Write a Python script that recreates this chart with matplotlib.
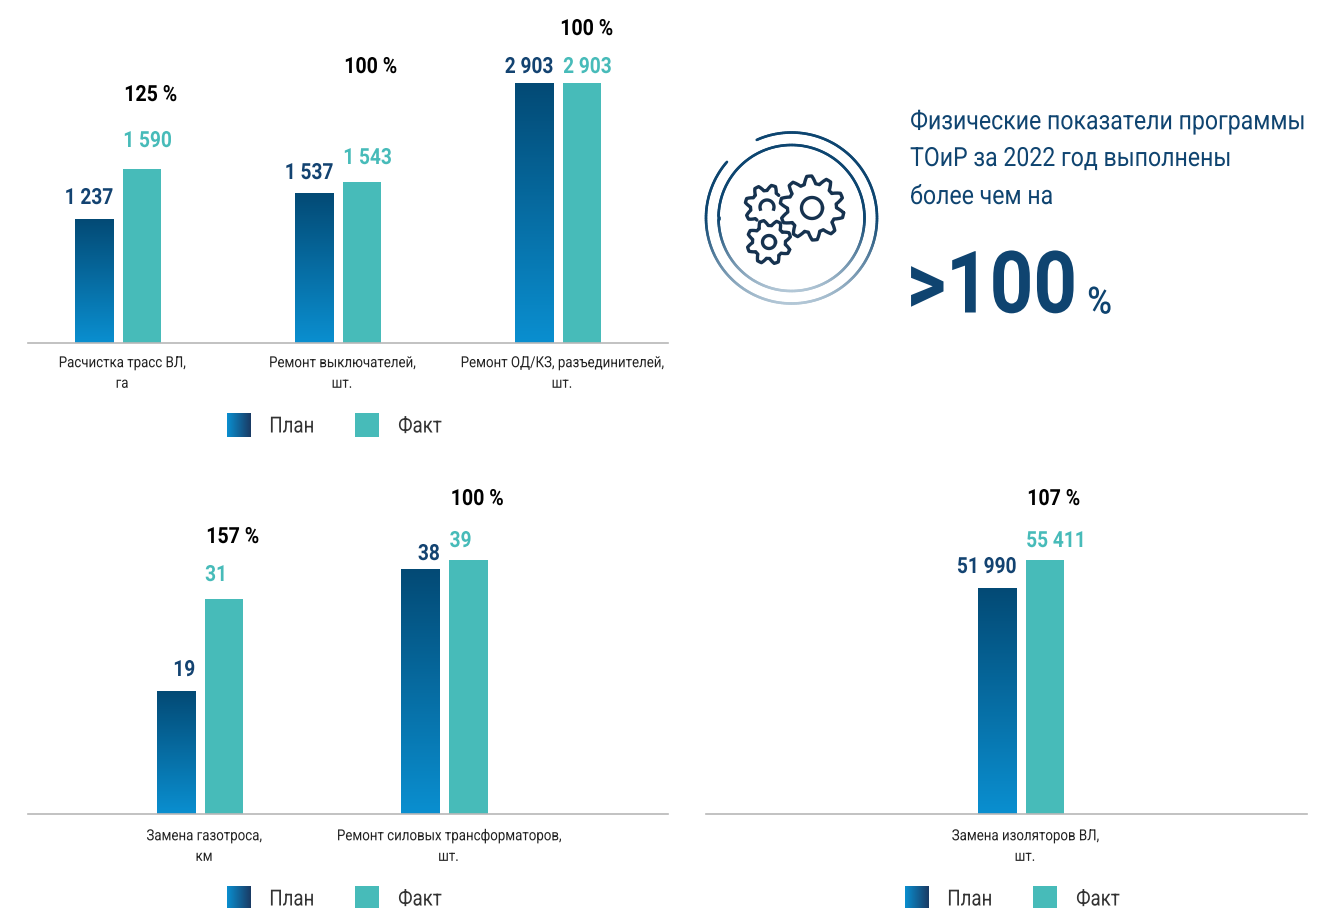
import numpy as np
import matplotlib
matplotlib.use('Agg')
import matplotlib.pyplot as plt
from matplotlib.colors import LinearSegmentedColormap
from matplotlib.patches import Rectangle
from matplotlib.patheffects import AbstractPathEffect
from matplotlib.transforms import Affine2D

plt.rcParams['font.family'] = ['Roboto', 'DejaVu Sans']

W, H = 1335, 908

# Bar heights (the source chart is not drawn to one scale)
cats_top = ['Расчистка трасс ВЛ,\nга', 'Ремонт выключателей,\nшт.', 'Ремонт ОД/КЗ, разъединителей,\nшт.']
plan_top = [124, 150, 260]
fact_top = [174, 161, 260]
plan_top_labels = ['1 237', '1 537', '2 903']
fact_top_labels = ['1 590', '1 543', '2 903']
pct_top = ['125 %', '100 %', '100 %']

cats_left = ['Замена газотроса,\nкм', 'Ремонт силовых трансформаторов,\nшт.']
plan_left = [123, 245]
fact_left = [215, 254]
plan_left_labels = ['19', '38']
fact_left_labels = ['31', '39']
pct_left = ['157 %', '100 %']

cats_right = ['Замена изоляторов ВЛ,\nшт.']
plan_right = [226]
fact_right = [254]
plan_right_labels = ['51 990']
fact_right_labels = ['55 411']
pct_right = ['107 %']

heading = ['Физические показатели программы', 'ТОиР за 2022 год выполнены', 'более чем на']

PLAN_TOP_COL = '#034a75'
PLAN_BOT_COL = '#0a8fd0'
FACT_COL = '#47bbb9'
AXIS_COL = '#b8b8b8'
NAVY = '#0f4470'
LABEL_NAVY = '#134371'
GEAR_COL = '#16324f'

bar_cmap = LinearSegmentedColormap.from_list('plan', [PLAN_BOT_COL, PLAN_TOP_COL])
legend_cmap = LinearSegmentedColormap.from_list('leg', [PLAN_BOT_COL, '#1a3a63'])
grad = np.linspace(0, 1, 256)


class Squeeze(AbstractPathEffect):
    # the reference uses a condensed face, so narrow each line of text sideways
    def __init__(self, sx, align='center'):
        super().__init__()
        self.sx = sx
        self.align = align

    def draw_path(self, renderer, gc, tpath, affine, rgbFace=None):
        box = affine.transform_path(tpath).get_extents()
        ref = {'left': box.x0, 'right': box.x1, 'center': (box.x0 + box.x1) / 2}[self.align]
        squeezed = affine + Affine2D().translate(-ref, 0).scale(self.sx, 1).translate(ref, 0)
        renderer.draw_path(gc, tpath, squeezed, rgbFace)


def px_axes(fig, x0, x1, base, top=0):
    return fig.add_axes([x0 / W, 1 - base / H, (x1 - x0) / W, (base - top) / H])


def bar_panel(fig, x0, x1, base, cats, plan, fact, plan_lab, fact_lab, pct, first, step,
              plan_off, fact_off, label_shift, plan_y, fact_y, pct_x, pct_y, pad=9.5):
    # one x unit = one group spacing, one y unit = one pixel
    ax = px_axes(fig, x0, x1, base)
    ax.patch.set_alpha(0)
    x = np.arange(len(cats))
    bw = 38.5 / step
    plan_bars = ax.bar(x + plan_off / step, plan, bw, color='none')
    ax.bar(x + fact_off / step, fact, bw, color=FACT_COL)
    for b in plan_bars:
        im = ax.imshow(grad[:, None], cmap=bar_cmap, aspect='auto', origin='lower',
                       extent=[b.get_x(), b.get_x() + bw, 0, b.get_height()], zorder=2)
        im.set_clip_path(b)
    ax.set_xlim((x0 - first) / step, (x1 - first) / step)
    ax.set_ylim(0, base)
    for i in x:
        t = ax.text(i + (plan_off + 19.5) / step, base - plan_y[i] - 2, plan_lab[i], ha='right', va='center',
                    fontsize=16, fontweight='bold', color=LABEL_NAVY)
        t.set_path_effects([Squeeze(0.86, 'right')])
        t = ax.text(i + (fact_off - 19) / step, base - fact_y[i] - 2, fact_lab[i], ha='left', va='center',
                    fontsize=16, fontweight='bold', color=FACT_COL)
        t.set_path_effects([Squeeze(0.86, 'left')])
        t = ax.text(i + (fact_off - 19 + pct_x[i]) / step, base - pct_y[i] - 2, pct[i], ha='left', va='center',
                    fontsize=16, fontweight='bold', color='black')
        t.set_path_effects([Squeeze(0.88, 'left')])
    for s in ['top', 'left', 'right']:
        ax.spines[s].set_visible(False)
    ax.spines['bottom'].set_color(AXIS_COL)
    ax.spines['bottom'].set_linewidth(1.2)
    ax.set_yticks([])
    ax.set_xticks(x + label_shift / step)
    ax.set_xticklabels(cats, fontsize=11, color='#222222', linespacing=1.6)
    ax.tick_params(axis='x', length=0, pad=pad)
    for lab in ax.get_xticklabels():
        lab.set_path_effects([Squeeze(0.87)])
    return ax


def legend(fig, x_plan, x_fact, y):
    grad_ax = fig.add_axes([x_plan / W, 1 - (y + 24) / H, 24 / W, 24 / H])
    grad_ax.imshow(grad[None, :], cmap=legend_cmap, aspect='auto')
    grad_ax.axis('off')
    fig.add_artist(Rectangle((x_fact / W, 1 - (y + 24) / H), 23.5 / W, 24 / H,
                             transform=fig.transFigure, color=FACT_COL, lw=0))
    for dx, x_box, name in [(42, x_plan, 'План'), (43, x_fact, 'Факт')]:
        t = fig.text((x_box + dx) / W, 1 - (y + 14) / H, name, fontsize=16, color='#333333', va='center')
        t.set_path_effects([Squeeze(0.84, 'left')])


def gear(ax, cx, cy, r_out, r_in, teeth, hole, phase=0.15, arc_hole=False, avoid=()):
    n = teeth * 4
    ang = np.arange(n + 1) * 2 * np.pi / n + phase
    rad = np.array([r_out, r_out, r_in, r_in] * teeth + [r_out], dtype=float)
    ang_fine = np.interp(np.linspace(0, n, n * 6 + 1), np.arange(n + 1), ang)
    rad_fine = np.interp(np.linspace(0, n, n * 6 + 1), np.arange(n + 1), rad)
    xs = cx + rad_fine * np.cos(ang_fine)
    ys = cy + rad_fine * np.sin(ang_fine)
    # hide the parts of a gear that pass behind its neighbours
    for ox, oy, orad in avoid:
        hit = np.hypot(xs - ox, ys - oy) < orad
        xs = np.where(hit, np.nan, xs)
    ax.plot(xs, ys, color=GEAR_COL, lw=2.4, solid_joinstyle='round', solid_capstyle='round')
    t = np.linspace(0.9 * np.pi, 2.1 * np.pi, 40) if arc_hole else np.linspace(0, 2 * np.pi, 80)
    ax.plot(cx + hole * np.cos(t), cy + hole * np.sin(t), color=GEAR_COL, lw=2.4)


def icon(fig):
    ax = fig.add_axes([0, 0, 1, 1])
    ax.set_xlim(0, W)
    ax.set_ylim(H, 0)
    ax.axis('off')
    ax.patch.set_alpha(0)
    top = np.array([0.05, 0.27, 0.44])
    bot = np.array([0.70, 0.78, 0.84])
    cx, cy = 791.5, 218
    for r, a0, a1 in [(73, 0, 360), (85.5, -114, 221)]:
        a = np.radians(np.linspace(a0, a1, 300))
        xs, ys = cx + r * np.cos(a), cy + r * np.sin(a)
        # fade from navy at the top to pale at the bottom
        frac = np.clip((ys - cy) / r, 0, 1)
        for k in range(len(a) - 1):
            ax.plot(xs[k:k + 2], ys[k:k + 2], color=top + (bot - top) * frac[k], lw=1.9,
                    solid_capstyle='round')
    gear(ax, 812, 208, 32, 24.5, 10, 10.5)
    gear(ax, 769, 242, 22, 16.5, 8, 6.5, phase=0.35)
    gear(ax, 767, 207, 22, 16.5, 8, 7, phase=0.2, arc_hole=True,
         avoid=[(812, 208, 35), (769, 242, 25)])


fig = plt.figure(figsize=(W / 100, H / 100), dpi=100, facecolor='white')

bar_panel(fig, 28, 668, 343, cats_top, plan_top, fact_top, plan_top_labels, fact_top_labels,
          pct_top, 120, 220, -26, 22, 2, [196, 171, 65], [139, 156, 65], [1, 1, -3], [93, 65, 27])
bar_panel(fig, 28, 668, 814, cats_left, plan_left, fact_left, plan_left_labels, fact_left_labels,
          pct_left, 200, 244.5, -24, 24, 4, [668, 552], [573, 539], [1, 1], [535, 497], pad=11)
bar_panel(fig, 706, 1307, 814, cats_right, plan_right, fact_right, plan_right_labels, fact_right_labels,
          pct_right, 1021, 220, -24, 24, 4, [565], [539], [1], [497], pad=11)

legend(fig, 227, 355, 413)
legend(fig, 227, 355, 886)
legend(fig, 905, 1033, 886)

icon(fig)

for line, y in zip(heading, [122, 159, 197]):
    t = fig.text(910 / W, 1 - y / H, line, fontsize=19, color=NAVY, va='center')
    t.set_path_effects([Squeeze(0.875, 'left')])
t = fig.text(906 / W, 1 - 289 / H, '>100', fontsize=62, fontweight='bold', color=NAVY, va='center')
t.set_path_effects([Squeeze(0.885, 'left')])
t = fig.text(1087 / W, 1 - 303 / H, '%', fontsize=27, fontweight='medium', color=NAVY, va='center')
t.set_path_effects([Squeeze(0.9, 'left')])

fig.savefig('out.png', dpi=100)
